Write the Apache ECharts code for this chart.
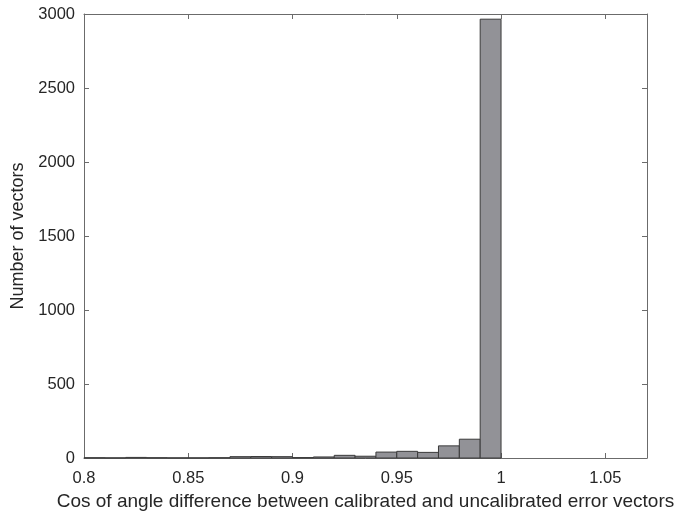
<!DOCTYPE html>
<html>
<head>
<meta charset="utf-8">
<script src="https://cdn.jsdelivr.net/npm/echarts@6/dist/echarts.min.js"></script>
<style>
  html, body { margin: 0; padding: 0; background: #fff; }
  #chart { width: 678px; height: 520px; }
</style>
</head>
<body>
<div id="chart"></div>
<script>
// histogram bins (left edges), width 0.01
const binStarts = [0.80, 0.81, 0.82, 0.83, 0.84, 0.85, 0.86, 0.87, 0.88, 0.89,
                   0.90, 0.91, 0.92, 0.93, 0.94, 0.95, 0.96, 0.97, 0.98, 0.99];
const binWidth = 0.01;
const counts = [2, 1, 4, 2, 1, 1, 2, 9, 10, 9,
                3, 7, 18, 12, 40, 45, 38, 82, 127, 2965];

const xTitle = 'Cos of angle difference between calibrated and uncalibrated error vectors';
const yTitle = 'Number of vectors';

const axisColor = '#6b6b6b';
const textColor = '#262626';
const font = 'Liberation Sans, Arial, sans-serif';

const chart = echarts.init(document.getElementById('chart'));

const histData = binStarts.map((s, i) => [s, s + binWidth, counts[i]]);

const commonAxis = {
  axisLine: { show: true, onZero: false, lineStyle: { color: axisColor, width: 1 } },
  axisTick: { show: true, inside: true, length: 5, lineStyle: { color: axisColor } },
  splitLine: { show: false },
};

chart.setOption({
  animation: false,
  grid: { left: 84, right: 31, top: 14, bottom: 62, outerBoundsMode: 'none', containLabel: false },
  xAxis: [
    {
      ...commonAxis,
      type: 'value',
      min: 0.8,
      max: 1.07,
      interval: 0.05,
      name: xTitle,
      nameLocation: 'middle',
      nameGap: 34,
      nameTextStyle: { color: textColor, fontSize: 19, fontFamily: font },
      axisLabel: {
        color: textColor, fontSize: 16.5, fontFamily: font, margin: 12,
        showMaxLabel: false,
        formatter: v => String(+v.toFixed(2)),
      },
    },
    {
      ...commonAxis,
      type: 'value',
      position: 'top',
      min: 0.8,
      max: 1.07,
      interval: 0.05,
      axisLabel: { show: false },
    },
  ],
  yAxis: [
    {
      ...commonAxis,
      type: 'value',
      min: 0,
      max: 3000,
      interval: 500,
      name: yTitle,
      nameLocation: 'middle',
      nameGap: 57,
      nameTextStyle: { color: textColor, fontSize: 18, fontFamily: font },
      axisLabel: {
        color: textColor, fontSize: 16.5, fontFamily: font, margin: 9,
        formatter: v => String(v),
      },
    },
    {
      ...commonAxis,
      type: 'value',
      position: 'right',
      min: 0,
      max: 3000,
      interval: 500,
      axisLabel: { show: false },
    },
  ],
  series: [
    {
      type: 'custom',
      xAxisIndex: 0,
      yAxisIndex: 0,
      data: histData,
      renderItem: (params, api) => {
        const p0 = api.coord([api.value(0), 0]);
        const p1 = api.coord([api.value(1), api.value(2)]);
        return {
          type: 'rect',
          shape: { x: p0[0], y: p1[1], width: p1[0] - p0[0], height: p0[1] - p1[1] },
          style: { fill: '#929297', stroke: '#3a3a3a', lineWidth: 1 },
        };
      },
    },
  ],
});
</script>
</body>
</html>
